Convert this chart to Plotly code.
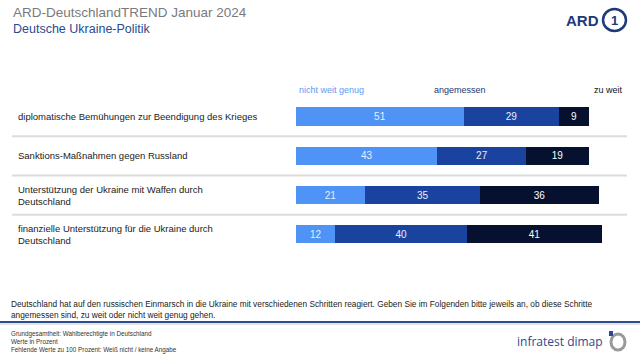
import plotly.graph_objects as go

W, H = 640, 361

categories = [
    "diplomatische Bemühungen zur Beendigung des Krieges",
    "Sanktions-Maßnahmen gegen Russland",
    "Unterstützung der Ukraine mit Waffen durch<br>Deutschland",
    "finanzielle Unterstützung für die Ukraine durch<br>Deutschland",
]
series_names = ["nicht weit genug", "angemessen", "zu weit"]
nicht_weit_genug = [51, 43, 21, 12]
angemessen = [29, 27, 35, 40]
zu_weit = [9, 19, 36, 41]

colors = ["#4e93f5", "#1a43a0", "#05112e"]
text_colors = ["#e6eeff", "#e6eeff", "#ffffff"]
FONT = "Liberation Sans, Arial, sans-serif"

pos = list(range(len(categories)))
fig = go.Figure()
for name, vals, c, tc in zip(series_names, [nicht_weit_genug, angemessen, zu_weit], colors, text_colors):
    fig.add_trace(go.Bar(
        y=pos, x=vals, orientation="h", name=name,
        marker=dict(color=c, line=dict(width=0)),
        width=0.46,
        text=[str(v) for v in vals], textposition="inside",
        insidetextanchor="middle",
        textfont=dict(color=tc, size=10, family=FONT),
        hoverinfo="skip",
    ))

c0, step = 116.5, 39.3
y_top = -c0 / step
y_bot = (H - c0) / step

fig.update_layout(
    width=W, height=H, barmode="stack", showlegend=False,
    margin=dict(l=0, r=0, t=0, b=0),
    paper_bgcolor="white", plot_bgcolor="white",
    xaxis=dict(domain=[296 / W, 625 / W], range=[0, 100], visible=False, fixedrange=True),
    yaxis=dict(domain=[0, 1], range=[y_bot, y_top], visible=False, fixedrange=True),
)

ann = []
def py(p):
    return 1 - p / H

ann.append(dict(x=11 / W, y=py(12), xref="paper", yref="paper", text="ARD-DeutschlandTREND Januar 2024",
                showarrow=False, xanchor="left", yanchor="middle",
                font=dict(size=13.5, color="#7a7a7a", family=FONT)))
ann.append(dict(x=11 / W, y=py(29), xref="paper", yref="paper", text="Deutsche Ukraine-Politik",
                showarrow=False, xanchor="left", yanchor="middle",
                font=dict(size=12.5, color="#2b4a8f", family=FONT)))

ann.append(dict(x=297 / W, y=py(90), xref="paper", yref="paper", text=series_names[0], showarrow=False,
                xanchor="left", yanchor="middle", font=dict(size=9, color="#5b9bf0", family=FONT)))
ann.append(dict(x=460 / W, y=py(90), xref="paper", yref="paper", text=series_names[1], showarrow=False,
                xanchor="center", yanchor="middle", font=dict(size=9, color="#1e3570", family=FONT)))
ann.append(dict(x=625 / W, y=py(90), xref="paper", yref="paper", text=series_names[2], showarrow=False,
                xanchor="right", yanchor="middle", font=dict(size=9, color="#111111", family=FONT)))

for i, cat in enumerate(categories):
    ann.append(dict(x=16 / W, y=i, xref="paper", yref="y", text=cat, showarrow=False,
                    xanchor="left", yanchor="middle", align="left",
                    font=dict(size=9.5, color="#222222", family=FONT)))

ann.append(dict(x=9 / W, y=py(309), xref="paper", yref="paper",
                text="Deutschland hat auf den russischen Einmarsch in die Ukraine mit verschiedenen Schritten reagiert. Geben Sie im Folgenden bitte jeweils an, ob diese Schritte<br>angemessen sind, zu weit oder nicht weit genug gehen.",
                showarrow=False, xanchor="left", yanchor="middle", align="left",
                font=dict(size=8.3, color="#222222", family=FONT)))

ann.append(dict(x=9 / W, y=py(342), xref="paper", yref="paper",
                text="Grundgesamtheit: Wahlberechtigte in Deutschland<br>Werte in Prozent<br>Fehlende Werte zu 100 Prozent: Weiß nicht / keine Angabe",
                showarrow=False, xanchor="left", yanchor="middle", align="left",
                font=dict(size=6.3, color="#333333", family=FONT)))
ann.append(dict(x=605 / W, y=py(341), xref="paper", yref="paper", text="infratest dimap",
                showarrow=False, xanchor="right", yanchor="middle",
                font=dict(size=12, color="#2b4a8f", family="Open Sans, sans-serif")))

ann.append(dict(x=601 / W, y=py(20), xref="paper", yref="paper", text="<b>ARD</b>",
                showarrow=False, xanchor="right", yanchor="middle",
                font=dict(size=15, color="#1d3a7a", family=FONT)))
ann.append(dict(x=614.5 / W, y=py(20), xref="paper", yref="paper", text="<b>1</b>",
                showarrow=False, xanchor="center", yanchor="middle",
                font=dict(size=13, color="#1d3a7a", family=FONT)))

fig.update_layout(annotations=ann)

shapes = []
for i in range(len(categories) - 1):
    shapes.append(dict(type="line", xref="paper", yref="y", x0=12 / W, x1=627 / W, y0=i + 0.5, y1=i + 0.5,
                       line=dict(color="#dcdcdc", width=2)))
shapes.append(dict(type="line", xref="paper", yref="paper", x0=0, x1=1, y0=py(322), y1=py(322),
                   line=dict(color="#2b4a8f", width=2)))
shapes.append(dict(type="line", xref="paper", yref="paper", x0=0, x1=1, y0=py(324), y1=py(324),
                   line=dict(color="#c8c8c8", width=1)))
shapes.append(dict(type="circle", xref="paper", yref="paper", x0=603 / W, x1=626 / W, y0=py(31), y1=py(9),
                   line=dict(color="#1d3a7a", width=2.5)))
shapes.append(dict(type="circle", xref="paper", yref="paper", x0=611 / W, x1=625 / W, y0=py(350), y1=py(334),
                   line=dict(color="#9a9a9a", width=3)))
shapes.append(dict(type="rect", xref="paper", yref="paper", x0=609 / W, x1=613 / W, y0=py(336), y1=py(331),
                   fillcolor="#2b4a8f", line=dict(width=0)))
fig.update_layout(shapes=shapes)

fig.write_html("out.html", config={"displayModeBar": False},
               post_script="document.body.style.margin='0';document.body.style.overflow='hidden';")
